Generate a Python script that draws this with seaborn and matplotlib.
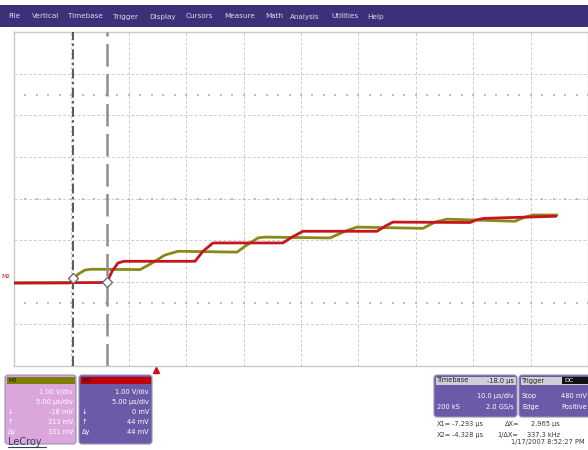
import numpy as np
import pandas as pd
import matplotlib
matplotlib.use("Agg")
import matplotlib.pyplot as plt
import seaborn as sns
from matplotlib.patches import FancyBboxPatch, Rectangle

# ---------------- data (time in µs, voltage in V) ----------------
m1_t = [-12.4, -7.52, -7.26, -6.82, -6.22, -5.61, -1.42, -0.55, 0.75, 1.89, 7.03, 7.72, 8.85,
        9.46, 15.13, 16.43, 17.48, 23.23, 24.27, 25.32, 27.76, 31.24, 32.11, 32.81, 34.90]
m1_v = [-0.02, -0.02, 0.05, 0.19, 0.29, 0.31, 0.30, 0.43, 0.65, 0.74, 0.72, 0.86, 1.06,
        1.08, 1.06, 1.22, 1.32, 1.29, 1.44, 1.51, 1.49, 1.46, 1.56, 1.61, 1.61]
m2_t = [-12.4, -4.91, -4.30, -3.86, -3.34, -2.82, 3.37, 4.06, 4.94, 11.03, 11.82, 12.77,
        19.22, 19.92, 20.61, 27.32, 27.84, 28.54, 34.81]
m2_v = [-0.02, -0.01, 0.0, 0.26, 0.46, 0.50, 0.50, 0.74, 0.94, 0.94, 1.08, 1.22,
        1.22, 1.34, 1.44, 1.43, 1.49, 1.53, 1.58]
cursor_x1 = -7.293
cursor_x2 = -4.328

menu_items = ["File", "Vertical", "Timebase", "Trigger", "Display", "Cursors",
              "Measure", "Math", "Analysis", "Utilities", "Help"]
menu_x = [8, 32, 68, 113, 149, 186, 224, 265, 290, 331, 367]
m1_lines = ["1.00 V/div", "5.00 µs/div", "-18 mV", "313 mV", "331 mV"]
m2_lines = ["1.00 V/div", "5.00 µs/div", "0 mV", "44 mV", "44 mV"]
side_syms = ["", "", "↓", "↑", "Δy"]

# ---------------- figure ----------------
sns.set_style("white")
plt.rcParams["font.family"] = ["DejaVu Sans"]
fig = plt.figure(figsize=(5.88, 4.5), dpi=100)
fig.patch.set_facecolor("white")

bg = fig.add_axes([0, 0, 1, 1])
bg.set_xlim(0, 588)
bg.set_ylim(450, 0)
bg.axis("off")

# menu bar
bg.add_patch(Rectangle((0, 5), 588, 22, color="#3e2f79", lw=0))
for xm, lab in zip(menu_x, menu_items):
    bg.text(xm, 16.5, lab, color="#dcd8ec", fontsize=5.2, va="center", ha="left")

# main scope axes
ax = fig.add_axes([14 / 588, 1 - 365.5 / 450, 574 / 588, 333.5 / 450])
ax.set_facecolor("white")
xmin, xmax = -12.4, 37.6
ax.set_xlim(xmin, xmax)
ax.set_ylim(-2, 6)
for s in ax.spines.values():
    s.set_color("#c8c8c8")
    s.set_linewidth(1.0)
ax.set_xticks([])
ax.set_yticks([])
gridc = "#cdcdcd"
for gx in np.arange(xmin + 5, xmax - 0.1, 5):
    ax.axvline(gx, color=gridc, lw=0.7, ls=(0, (3, 2)), zorder=0)
for gy in np.arange(-1, 6, 1):
    ax.axhline(gy, color=gridc, lw=0.7, ls=(0, (3, 2)), zorder=0)
# minor dots
mx = np.arange(xmin, xmax + 0.01, 1.0)
for ry in [4.5, 2.0, -0.5]:
    ax.scatter(mx, np.full_like(mx, ry), s=1.0, color="#bdbdbd", marker="s", lw=0, zorder=0)

df = pd.concat([
    pd.DataFrame({"t": m1_t, "v": m1_v, "trace": "M1"}),
    pd.DataFrame({"t": m2_t, "v": m2_v, "trace": "M2"}),
])
sns.lineplot(data=df, x="t", y="v", hue="trace", palette={"M1": "#878a16", "M2": "#c8141e"},
             sort=False, estimator=None, lw=2.0, ax=ax, legend=False, zorder=3)

# cursors
ax.axvline(cursor_x1, color="#3c3c3c", lw=1.2, ls=(0, (6, 2, 1.5, 2)), zorder=4)
ax.axvline(cursor_x2, color="#8e8e8e", lw=1.8, ls=(0, (9, 3)), zorder=4)
ax.plot(cursor_x1, np.interp(cursor_x1, m1_t, m1_v) + 0.05, marker="D", ms=5, mfc="white",
        mec="#707070", mew=1.0, zorder=5)
ax.plot(cursor_x2, np.interp(cursor_x2, m2_t, m2_v), marker="D", ms=5, mfc="white",
        mec="#707070", mew=1.0, zorder=5)
ax.plot(0, -2.1, marker="^", ms=4, color="#d01010", clip_on=False, zorder=6)
ax.set_xlabel("")
ax.set_ylabel("")

bg.text(1, 276, "M2", color="#c8141e", fontsize=4.2, va="center", ha="left")

# channel boxes
def chan_box(x0, x1, head_col, body_col, name, lines):
    bg.add_patch(FancyBboxPatch((x0, 375), x1 - x0, 69, boxstyle="round,pad=0,rounding_size=3",
                                fc=body_col, ec="#9a90b8", lw=0.8))
    bg.add_patch(Rectangle((x0 + 1.5, 376.5), x1 - x0 - 3, 7.5, color=head_col, lw=0))
    bg.text(x0 + 3, 380.5, name, fontsize=4.5, color="#1a1a1a", va="center")
    for i, (sym, ln) in enumerate(zip(side_syms, lines)):
        yy = 392 + i * 10
        bg.text(x1 - 3, yy, ln, fontsize=4.8, color="white", ha="right", va="center")
        if sym:
            bg.text(x0 + 3, yy, sym, fontsize=4.8, color="white", ha="left", va="center")

chan_box(5, 76, "#7e7e00", "#dba6dc", "M1", m1_lines)
chan_box(79, 152, "#c00000", "#6b5aa8", "M2", m2_lines)

# timebase / trigger boxes
bg.add_patch(FancyBboxPatch((434, 375), 83, 42, boxstyle="round,pad=0,rounding_size=3",
                            fc="#6b5aa8", ec="#9a90b8", lw=0.8))
bg.add_patch(Rectangle((435.5, 376.5), 80, 8, color="#cfcfd6", lw=0))
bg.text(437, 380.5, "Timebase", fontsize=4.8, color="#222222", va="center")
bg.text(514, 380.5, "-18.0 µs", fontsize=4.8, color="#222222", va="center", ha="right")
bg.text(514, 396, "10.0 µs/div", fontsize=4.8, color="white", va="center", ha="right")
bg.text(437, 407, "200 kS", fontsize=4.8, color="white", va="center")
bg.text(514, 407, "2.0 GS/s", fontsize=4.8, color="white", va="center", ha="right")

bg.add_patch(FancyBboxPatch((519, 375), 72, 42, boxstyle="round,pad=0,rounding_size=3",
                            fc="#6b5aa8", ec="#9a90b8", lw=0.8))
bg.add_patch(Rectangle((520.5, 376.5), 70, 8, color="#cfcfd6", lw=0))
bg.add_patch(Rectangle((562, 377), 28, 7, color="#111111", lw=0))
bg.text(522, 380.5, "Trigger", fontsize=4.8, color="#222222", va="center")
bg.text(564, 380.5, "DC", fontsize=4.5, color="white", va="center")
bg.text(522, 396, "Stop", fontsize=4.8, color="white", va="center")
bg.text(587, 396, "480 mV", fontsize=4.8, color="white", va="center", ha="right")
bg.text(522, 407, "Edge", fontsize=4.8, color="white", va="center")
bg.text(587, 407, "Positive", fontsize=4.8, color="white", va="center", ha="right")

# cursor readouts
tc = "#3a3a3a"
bg.text(437, 424, "X1=", fontsize=4.8, color=tc, va="center")
bg.text(483, 424, "-7.293 µs", fontsize=4.8, color=tc, va="center", ha="right")
bg.text(505, 424, "ΔX=", fontsize=4.8, color=tc, va="center")
bg.text(560, 424, "2.965 µs", fontsize=4.8, color=tc, va="center", ha="right")
bg.text(437, 435, "X2=", fontsize=4.8, color=tc, va="center")
bg.text(483, 435, "-4.328 µs", fontsize=4.8, color=tc, va="center", ha="right")
bg.text(497, 435, "1/ΔX=", fontsize=4.8, color=tc, va="center")
bg.text(560, 435, "337.3 kHz", fontsize=4.8, color=tc, va="center", ha="right")
bg.text(585, 442, "1/17/2007 8:52:27 PM", fontsize=4.8, color=tc, va="center", ha="right")

# logo
bg.text(8, 442, "LeCroy", fontsize=7, color="#3a3d5c", va="center", ha="left")
bg.plot([8, 46], [447, 447], color="#3a3d5c", lw=0.8)

fig.savefig("out.png", dpi=100, facecolor="white")
